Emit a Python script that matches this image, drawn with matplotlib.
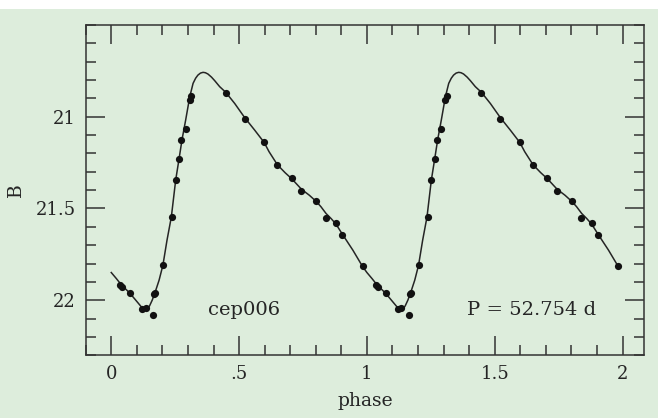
import matplotlib
matplotlib.use("Agg")
import matplotlib.pyplot as plt
from matplotlib.patches import Rectangle
from matplotlib.ticker import FixedLocator, MultipleLocator

# observed data points, one cycle (phase, B magnitude); shown at phase and phase+1
obs_phase = [0.036, 0.042, 0.073, 0.121, 0.134, 0.163, 0.167, 0.172, 0.204,
             0.239, 0.252, 0.266, 0.274, 0.291, 0.307, 0.312, 0.447, 0.522,
             0.598, 0.650, 0.706, 0.744, 0.802, 0.838, 0.879, 0.904, 0.983]
obs_mag = [21.919, 21.927, 21.958, 22.045, 22.040, 22.080, 21.968, 21.958, 21.810,
           21.546, 21.345, 21.231, 21.127, 21.067, 20.909, 20.885, 20.868, 21.013,
           21.136, 21.264, 21.334, 21.404, 21.458, 21.551, 21.580, 21.642, 21.816]

# fitted light curve, one cycle
fit_phase = [0.000, 0.020, 0.036, 0.055, 0.073, 0.090, 0.105, 0.120, 0.130, 0.140,
             0.150, 0.160, 0.170, 0.187, 0.202, 0.218, 0.235, 0.252, 0.265, 0.277,
             0.291, 0.307, 0.320, 0.330, 0.339, 0.349, 0.359, 0.368, 0.378, 0.392,
             0.405, 0.424, 0.448, 0.483, 0.522, 0.561, 0.598, 0.617, 0.650, 0.680,
             0.706, 0.744, 0.775, 0.802, 0.820, 0.840, 0.860, 0.879, 0.904, 0.945,
             0.983]
fit_mag = [21.849, 21.882, 21.910, 21.937, 21.962, 21.990, 22.015, 22.040, 22.050, 22.052,
           22.030, 22.000, 21.963, 21.891, 21.809, 21.673, 21.546, 21.345, 21.231, 21.123,
           21.018, 20.891, 20.818, 20.790, 20.773, 20.762, 20.758, 20.760, 20.767, 20.784,
           20.804, 20.836, 20.867, 20.928, 21.005, 21.073, 21.140, 21.190, 21.262, 21.305,
           21.338, 21.395, 21.428, 21.462, 21.490, 21.527, 21.555, 21.585, 21.640, 21.727,
           21.816]

n_cycles = [0, 1]
x_major = [0, 0.5, 1, 1.5, 2]
x_labels = ["0", ".5", "1", "1.5", "2"]
y_major = [21, 21.5, 22]
y_labels = ["21", "21.5", "22"]
star_name = "cep006"
period_text = "P = 52.754 d"

bg = "#ddeddc"
ink = "#252525"
plt.rcParams["font.family"] = ["DejaVu Serif"]

fig = plt.figure(figsize=(6.58, 4.18), dpi=100, facecolor="white")
fig.patches.append(Rectangle((0, 0), 1, 1 - 9 / 418, transform=fig.transFigure,
                             facecolor=bg, edgecolor="none", zorder=-10))
ax = fig.add_axes([85.7 / 658, 1 - 355.3 / 418, (644.3 - 85.7) / 658, (355.3 - 25) / 418])
ax.set_facecolor(bg)

cx, cy, px, py = [], [], [], []
for c in n_cycles:
    cx += [p + c for p in fit_phase]
    cy += fit_mag
    px += [p + c for p in obs_phase]
    py += obs_mag
ax.plot(cx, cy, color=ink, lw=1.1, zorder=2)
ax.plot(px, py, "o", color="#111111", ms=5.2, mec="none", zorder=3)

ax.set_xlim(-0.1, 2.085)
ax.set_ylim(22.3, 20.5)

ax.xaxis.set_major_locator(FixedLocator(x_major))
ax.set_xticklabels(x_labels)
ax.xaxis.set_minor_locator(MultipleLocator(0.1))
ax.yaxis.set_major_locator(FixedLocator(y_major))
ax.set_yticklabels(y_labels)
ax.yaxis.set_minor_locator(MultipleLocator(0.1))

ax.tick_params(which="both", direction="in", top=True, right=True, color="#333333",
               width=1.1, labelsize=13, labelcolor=ink)
ax.tick_params(which="major", length=14, pad=7)
ax.tick_params(which="minor", length=7.5)
for s in ax.spines.values():
    s.set_color("#333333")
    s.set_linewidth(1.1)

ax.set_xlabel("phase", fontsize=13.5, color=ink)
ax.xaxis.set_label_coords(0.5, -0.112)
ax.set_ylabel("B", fontsize=13.5, color=ink)
ax.yaxis.set_label_coords(-0.108, 0.5)

ax.text(0.52, 22.055, star_name, ha="center", va="center", fontsize=14, color=ink)
ax.text(1.644, 22.055, period_text, ha="center", va="center", fontsize=14, color=ink)

fig.savefig("out.png", dpi=100, facecolor=fig.get_facecolor())
